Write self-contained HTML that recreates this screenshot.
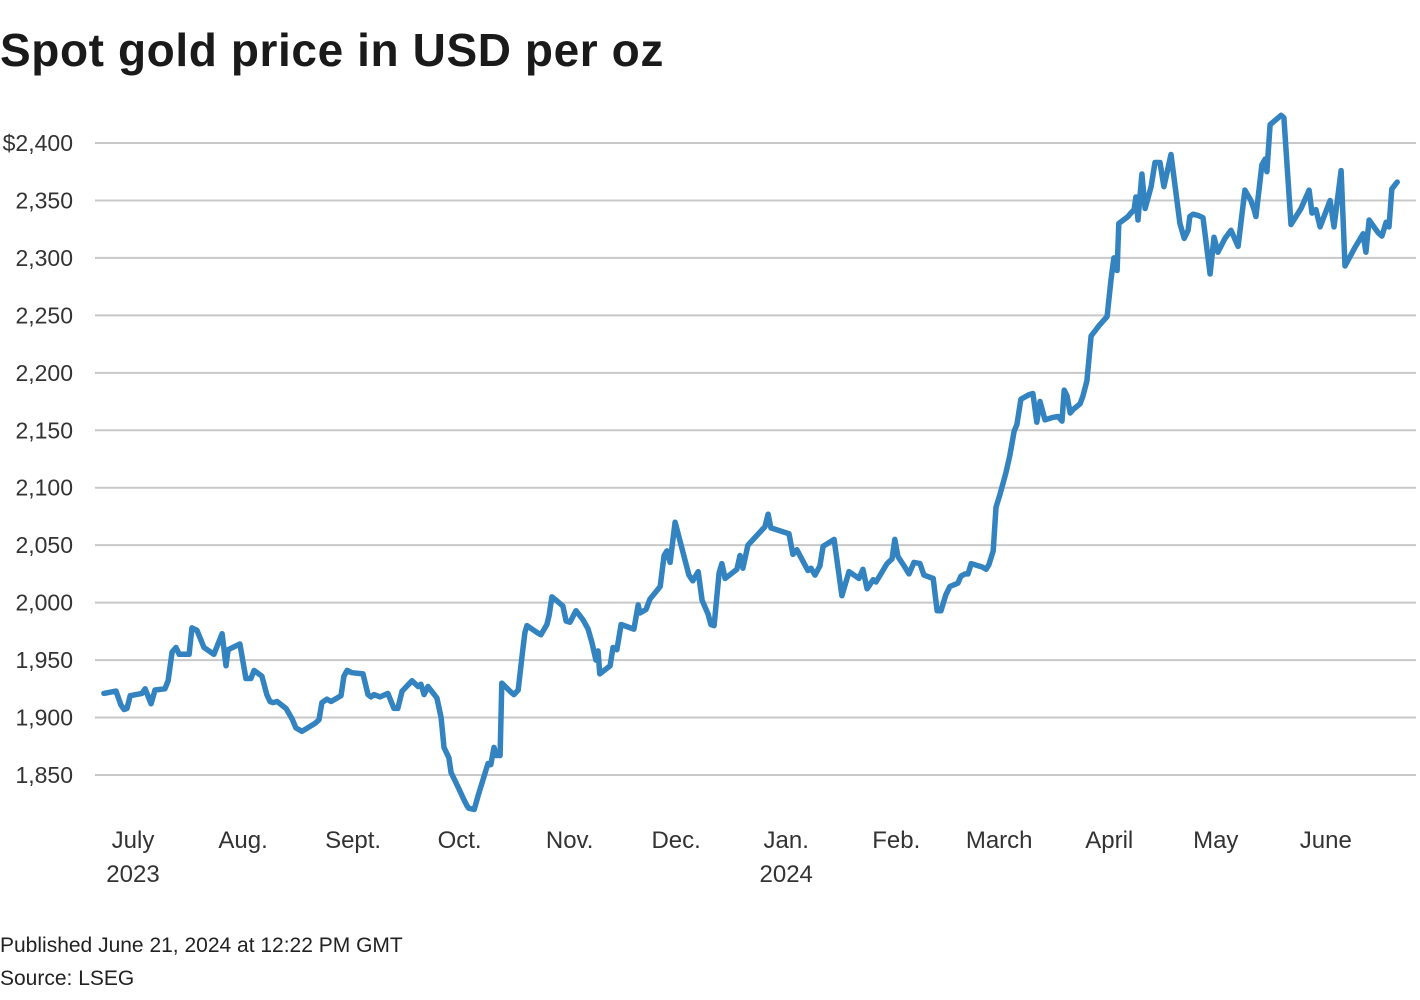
<!DOCTYPE html>
<html><head><meta charset="utf-8"><style>
body{margin:0;background:#fff;font-family:"Liberation Sans",sans-serif;}
svg{display:block}
</style></head><body>
<svg id="chart" width="1420" height="1000" xmlns="http://www.w3.org/2000/svg">
<text x="0" y="66" font-family="Liberation Sans, sans-serif" font-weight="bold" font-size="46" fill="#1a1a1a" letter-spacing="0.6">Spot gold price in USD per oz</text>
<g id="grid"></g>
<g id="yaxis"></g>
<g id="xaxis"></g>
<g id="series"></g>
<text x="0" y="952" font-size="21" fill="#222">Published June 21, 2024 at 12:22 PM GMT</text>
<text x="0" y="985" font-size="21" fill="#222">Source: LSEG</text>
</svg>
<script>
// days since July 1, 2023
const days = [-8.2,-4.8,-3.4,-2.5,-1.7,-0.8,2.5,3.4,5.1,6.2,9.0,9.9,11.0,12.1,13.0,15.8,16.6,18.0,20.0,22.8,25.1,26.2,26.8,30.1,31.0,31.8,33.2,34.1,36.3,37.7,38.6,39.4,40.6,43.1,44.8,45.9,47.6,51.3,52.4,53.2,54.6,55.8,58.6,59.4,60.3,61.7,64.8,66.2,67.0,67.9,69.6,71.8,73.5,74.6,75.8,78.6,80.3,81.1,82.0,83.1,85.6,86.8,87.6,89.0,89.6,90.4,91.8,93.0,94.1,94.6,96.1,97.2,100.0,100.8,101.7,102.3,103.4,103.9,106.5,107.3,108.5,109.6,110.4,111.0,113.8,114.9,116.6,117.2,118.0,119.2,121.1,122.0,123.1,124.8,126.8,128.2,129.3,130.4,131.0,131.5,134.4,135.2,136.3,137.5,141.1,142.3,142.8,144.5,145.6,148.5,149.6,150.4,151.3,152.7,156.6,157.7,159.2,160.3,162.0,162.8,163.7,165.1,165.9,166.8,170.1,171.0,171.8,173.2,174.4,178.0,178.9,179.7,184.8,185.9,187.0,190.1,191.0,192.1,193.5,194.4,197.5,199.7,201.7,204.5,205.6,206.8,208.5,209.3,212.4,213.8,214.6,215.5,217.2,218.6,220.0,221.7,222.8,225.4,226.5,227.6,229.0,230.1,232.4,233.2,234.4,235.2,236.1,239.2,240.3,241.1,242.3,243.1,244.2,245.9,247.0,248.2,249.0,250.1,252.4,253.5,254.6,255.5,256.9,258.9,260.6,261.7,262.3,263.1,264.0,264.8,266.8,267.6,268.7,269.9,272.1,274.4,275.5,276.3,277.2,277.7,280.3,280.8,282.0,282.5,283.1,284.2,285.1,286.8,287.9,288.7,289.3,290.4,292.4,294.9,296.1,297.2,297.7,298.6,300.0,301.4,303.4,304.5,305.6,307.6,309.3,311.3,313.2,314.9,315.8,316.3,318.0,318.9,319.4,320.3,323.4,324.2,326.2,329.0,331.3,332.1,333.2,334.4,337.2,338.3,340.3,341.4,344.2,346.5,347.3,348.2,350.7,351.8,353.0,353.8,354.6,356.1];
const prices = [1921,1923,1911,1907,1908,1919,1921,1925,1912,1924,1925,1932,1957,1961,1955,1955,1978,1976,1961,1955,1973,1945,1959,1964,1948,1934,1934,1941,1936,1920,1914,1913,1914,1908,1899,1891,1888,1895,1898,1913,1916,1914,1919,1936,1941,1939,1938,1920,1918,1920,1918,1921,1908,1908,1923,1932,1927,1929,1920,1927,1917,1900,1874,1865,1852,1847,1838,1830,1823,1821,1820,1832,1860,1859,1874,1867,1867,1930,1922,1920,1924,1954,1974,1980,1974,1972,1981,1989,2005,2002,1997,1984,1983,1993,1985,1977,1965,1950,1958,1938,1945,1961,1959,1981,1977,1998,1991,1994,2003,2014,2041,2045,2035,2070,2024,2019,2027,2002,1990,1981,1980,2026,2034,2021,2029,2041,2030,2050,2054,2066,2077,2065,2060,2042,2046,2028,2030,2024,2032,2049,2055,2006,2027,2021,2029,2012,2020,2018,2034,2038,2055,2040,2032,2025,2035,2034,2024,2021,1993,1993,2007,2014,2017,2023,2025,2025,2034,2031,2029,2033,2045,2083,2094,2113,2128,2149,2155,2177,2181,2182,2157,2175,2159,2161,2162,2158,2185,2180,2165,2168,2173,2180,2193,2232,2241,2249,2281,2300,2289,2330,2336,2338,2342,2353,2333,2373,2343,2362,2383,2383,2383,2362,2390,2330,2317,2324,2336,2338,2337,2335,2286,2318,2305,2317,2324,2310,2359,2350,2342,2336,2381,2386,2375,2416,2424,2422,2329,2343,2359,2339,2342,2327,2350,2327,2376,2293,2309,2321,2305,2333,2322,2319,2331,2327,2360,2366];
const yTicks = [1850,1900,1950,2000,2050,2100,2150,2200,2250,2300,2350,2400];
const yTickLabels = ["1,850","1,900","1,950","2,000","2,050","2,100","2,150","2,200","2,250","2,300","2,350","$2,400"];
const monthLabels = ["July","Aug.","Sept.","Oct.","Nov.","Dec.","Jan.","Feb.","March","April","May","June"];
const monthDays = [0,31,62,92,123,153,184,215,244,275,305,336];
const yearLabels = ["2023","","","","","","2024","","","","",""];

const NS="http://www.w3.org/2000/svg";
function xScale(d){return 133+d*3.55;}
function yScale(v){return 775-(v-1850)*(632/550);}
function mk(tag,attrs,parent){const e=document.createElementNS(NS,tag);for(const k in attrs)e.setAttribute(k,attrs[k]);parent.appendChild(e);return e;}
const grid=document.getElementById('grid'),yax=document.getElementById('yaxis'),xax=document.getElementById('xaxis'),ser=document.getElementById('series');
yTicks.forEach((t,i)=>{
  const y=yScale(t);
  const l=mk('line',{x1:95,x2:1416,y1:y,y2:y,stroke:'#c8c8c8','stroke-width':2},grid);
  
  
  const tx=mk('text',{x:73,y:y+8,'text-anchor':'end','font-size':23,fill:'#333'},yax);
  tx.textContent=yTickLabels[i];
  
  
});
monthLabels.forEach((m,i)=>{
  const x=xScale(monthDays[i]);
  const tx=mk('text',{x:x,y:848,'text-anchor':'middle','font-size':24,fill:'#333'},xax);
  tx.textContent=m;
  
  
  if(yearLabels[i]){
    const ty=mk('text',{x:x,y:882,'text-anchor':'middle','font-size':24,fill:'#333'},xax);
    ty.textContent=yearLabels[i];
    
    
  }
});
const pts=days.map((d,i)=>xScale(d).toFixed(1)+','+yScale(prices[i]).toFixed(1)).join(' ');
const pl=mk('polyline',{points:pts,fill:'none',stroke:'#3383c0','stroke-width':5.5,'stroke-linejoin':'round','stroke-linecap':'round'},ser);


</script>
</body></html>
